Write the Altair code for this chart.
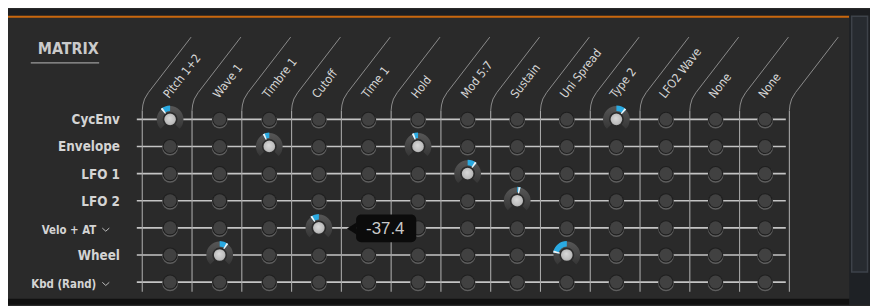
import math
import altair as alt
import pandas as pd

# ---------------- data ----------------
columns = ["Pitch 1+2", "Wave 1", "Timbre 1", "Cutoff", "Time 1", "Hold",
           "Mod 5:7", "Sustain", "Uni Spread", "Type 2", "LFO2 Wave", "None", "None"]
rows = ["CycEnv", "Envelope", "LFO 1", "LFO 2", "Velo + AT", "Wheel", "Kbd (Rand)"]
dropdown_rows = ["Velo + AT", "Kbd (Rand)"]

active_row = ["CycEnv", "CycEnv", "Envelope", "Envelope", "LFO 1", "LFO 2",
              "Velo + AT", "Wheel", "Wheel"]
active_col = ["Pitch 1+2", "Type 2", "Timbre 1", "Hold", "Mod 5:7", "Sustain",
              "Cutoff", "Wave 1", "Uni Spread"]
active_amount = [-42, 45, -28, -26, 40, 14, -37.4, 38, -80]

tooltip_row = "Velo + AT"
tooltip_col = "Cutoff"
title_text = "MATRIX"

# ---------------- layout ----------------
W, H = 870, 298
X0, DX = 163.6, 50.05      # chart px of first column, column pitch
Y0, DY = 111.0, 27.38      # chart px of first row, row pitch
DEG_PER_UNIT = 1.0
TWO_PI = 2 * math.pi


def ix(px):
    return (px - X0) / DX


def iy(py):
    return (py - Y0) / DY


xs = alt.Scale(domain=[ix(0), ix(W)], nice=False, zero=False)
ys = alt.Scale(domain=[iy(0), iy(H)], nice=False, zero=False, reverse=True)


def X(f):
    return alt.X(f, type="quantitative", scale=xs, axis=None)


def Y(f):
    return alt.Y(f, type="quantitative", scale=ys, axis=None)


# ---------------- tables ----------------
active_keys = {(r, c) for r, c in zip(active_row, active_col)}
cells = []
for j, r in enumerate(rows):
    for i, c in enumerate(columns):
        cells.append({"i": i, "j": j, "active": (r, c) in active_keys})
cells = pd.DataFrame(cells)
inactive = cells[~cells["active"]]

act = []
for r, c, v in zip(active_row, active_col, active_amount):
    a = v * DEG_PER_UNIT * math.pi / 180
    s = 1 if a >= 0 else -1
    tip = a - s * 0.15
    act.append({
        "i": columns.index(c), "j": rows.index(r), "v": v,
        "h0": -2.36 + TWO_PI, "h1": 2.36 + TWO_PI,
        "b0": min(a, 0) + TWO_PI, "b1": max(a, 0) + TWO_PI,
        "w0": min(a, tip) + TWO_PI, "w1": max(a, tip) + TWO_PI,
    })
act = pd.DataFrame(act)

hlines = pd.DataFrame({"j": list(range(len(rows)))})
hlines["x0"] = ix(130)
hlines["x1"] = ix(785)

vpts, dpts = [], []
curve = [(0, 102), (0.6, 96.5), (2.3, 90.5), (6.1, 84.1), (49.3, 28)]
for k in range(len(columns) + 1):
    lx = 135.5 + 50.24 * k
    vpts += [{"k": k, "o": 0, "x": ix(lx), "y": iy(285)},
             {"k": k, "o": 1, "x": ix(lx), "y": iy(102)}]
    for o, (dxp, py) in enumerate(curve):
        dpts.append({"k": k, "o": o, "x": ix(lx + dxp), "y": iy(py)})
vpts = pd.DataFrame(vpts)
dpts = pd.DataFrame(dpts)

col_labels = pd.DataFrame({"i": list(range(len(columns))), "label": columns})
col_labels["y"] = iy(90.5)

row_df = pd.DataFrame({"j": list(range(len(rows))), "label": rows})
row_df["dd"] = row_df["label"].isin(dropdown_rows)
row_df["xr"] = [ix(89) if d else ix(113) for d in row_df["dd"]]
row_df["xc"] = ix(98.7)
reg_rows = row_df[~row_df["dd"]]
dd_rows = row_df[row_df["dd"]]

tip_idx = [k for k in range(len(active_row))
           if active_row[k] == tooltip_row and active_col[k] == tooltip_col][0]
tip_df = pd.DataFrame([{
    "i": columns.index(tooltip_col), "j": rows.index(tooltip_row),
    "txt": f"{active_amount[tip_idx]:.1f}",
}])

one = pd.DataFrame({"a": [0]})

LABEL_FONT = "'DejaVu Sans Condensed', 'Roboto Condensed', 'Liberation Sans Narrow', Roboto, sans-serif"

# ---------------- frame ----------------
top_bar = alt.Chart(one).mark_rect(color="#1c1e21").encode(
    x=alt.value(0), x2=alt.value(W), y=alt.value(0), y2=alt.value(6.5))
orange = alt.Chart(one).mark_rect(color="#c9670e").encode(
    x=alt.value(0), x2=alt.value(849), y=alt.value(6.5), y2=alt.value(8.5))
right_col = alt.Chart(one).mark_rect(color="#1e2125").encode(
    x=alt.value(849), x2=alt.value(W), y=alt.value(6.5), y2=alt.value(H))
scroll = alt.Chart(one).mark_rect(fill="#272b30", stroke="#3d4249", strokeWidth=1.5).encode(
    x=alt.value(851.5), x2=alt.value(867.5), y=alt.value(7), y2=alt.value(265))
bottom = alt.Chart(one).mark_rect(color="#101010").encode(
    x=alt.value(0), x2=alt.value(849), y=alt.value(292), y2=alt.value(H))

title = alt.Chart(one).mark_text(
    text=title_text, font=LABEL_FONT, fontWeight="bold", fontSize=16,
    color="#cacaca", align="left", baseline="alphabetic").encode(
    x=alt.value(30), y=alt.value(45.5))
underline = alt.Chart(one).mark_rule(color="#9c9c9c", strokeWidth=1.2).encode(
    x=alt.value(23), x2=alt.value(92), y=alt.value(54))

# ---------------- grid ----------------
h_rules = alt.Chart(hlines).mark_rule(color="#c4c4c4", strokeWidth=1.6).encode(
    x=X("x0"), x2=alt.X2("x1"), y=Y("j"))
v_lines = alt.Chart(vpts).mark_line(color="#a8a8a8", strokeWidth=1.1).encode(
    x=X("x"), y=Y("y"), detail="k:N", order="o:Q")
d_lines = alt.Chart(dpts).mark_line(color="#8c8c8c", strokeWidth=1.0).encode(
    x=X("x"), y=Y("y"), detail="k:N", order="o:Q")

col_text = alt.Chart(col_labels).mark_text(
    font=LABEL_FONT, fontSize=12, color="#d6d6d6", angle=308,
    align="left", baseline="alphabetic", xOffset=-1).encode(
    x=X("i"), y=Y("y"), text="label:N")

row_text = alt.Chart(reg_rows).mark_text(
    font=LABEL_FONT, fontWeight="bold", fontSize=13.5, color="#d4d4d4",
    align="right", baseline="alphabetic", dy=5.0).encode(
    x=X("xr"), y=Y("j"), text="label:N")
dd_text = alt.Chart(dd_rows).mark_text(
    font=LABEL_FONT, fontWeight="bold", fontSize=11.5, color="#d4d4d4",
    align="right", baseline="alphabetic", dy=6.0).encode(
    x=X("xr"), y=Y("j"), text="label:N")
chevron = alt.Chart(dd_rows).mark_point(
    shape="M -1 -0.45 L 0 0.45 L 1 -0.45", filled=False, size=49,
    stroke="#bdbdbd", strokeWidth=1, opacity=1, yOffset=1.8).encode(
    x=X("xc"), y=Y("j"))

# ---------------- knobs ----------------
k_rim = alt.Chart(inactive).mark_circle(size=250, color="#5e5e5e", opacity=1, yOffset=1.3).encode(
    x=X("i"), y=Y("j"))
k_edge = alt.Chart(inactive).mark_circle(size=235, color="#1f1f1f", opacity=1).encode(
    x=X("i"), y=Y("j"))
k_fill = alt.Chart(inactive).mark_circle(size=172, color="#414141", opacity=1).encode(
    x=X("i"), y=Y("j"))

halo = alt.Chart(act).mark_arc(
    radius=13.5, radius2=0,
    fill={"gradient": "linear", "x1": 0, "y1": 0, "x2": 0, "y2": 1,
          "stops": [{"offset": 0, "color": "#575757"}, {"offset": 1, "color": "#363636"}]}).encode(
    x=X("i"), y=Y("j"),
    theta=alt.Theta("h0:Q", scale=None, stack=False), theta2=alt.Theta2("h1"))
blue = alt.Chart(act).mark_arc(radius=14, radius2=8.5, color="#2aaae2").encode(
    x=X("i"), y=Y("j"),
    theta=alt.Theta("b0:Q", scale=None, stack=False), theta2=alt.Theta2("b1"))
white_tick = alt.Chart(act).mark_arc(radius=14, radius2=7, color="#f2f2f2").encode(
    x=X("i"), y=Y("j"),
    theta=alt.Theta("w0:Q", scale=None, stack=False), theta2=alt.Theta2("w1"))
center = alt.Chart(act).mark_circle(
    size=180, opacity=1, stroke="#2a2a2a", strokeWidth=1.6,
    fill={"gradient": "radial", "x1": 0.45, "y1": 0.4, "r1": 0,
          "x2": 0.5, "y2": 0.5, "r2": 0.55,
          "stops": [{"offset": 0, "color": "#d9d9d9"}, {"offset": 0.7, "color": "#bdbdbd"},
                    {"offset": 1, "color": "#8e8e8e"}]}).encode(
    x=X("i"), y=Y("j"))

# ---------------- tooltip ----------------
tip_box = alt.Chart(tip_df).mark_rect(
    color="#0b0b0b", cornerRadius=5, xOffset=37.6, x2Offset=98.3,
    yOffset=-13.4, y2Offset=14.4).encode(
    x=X("i"), x2=alt.X2("i"), y=Y("j"), y2=alt.Y2("j"))
tip_arrow = alt.Chart(tip_df).mark_point(
    shape="M -0.8 0 L 0.8 -1 L 0.8 1 Z", filled=True, size=144,
    color="#0b0b0b", opacity=1, xOffset=33.2, yOffset=0.6).encode(
    x=X("i"), y=Y("j"))
tip_text = alt.Chart(tip_df).mark_text(
    font="'Liberation Sans', Arial, sans-serif", fontSize=17, color="#c9c9c9", align="center",
    baseline="alphabetic", xOffset=67, yOffset=6.6).encode(
    x=X("i"), y=Y("j"), text="txt:N")

chart = alt.layer(
    top_bar, orange, right_col, scroll, bottom, title, underline,
    h_rules, v_lines, d_lines, col_text, row_text, dd_text, chevron,
    k_rim, k_edge, k_fill, halo, blue, white_tick, center,
    tip_box, tip_arrow, tip_text,
).properties(
    width=W, height=H, autosize=alt.AutoSizeParams(type="none"), padding=0,
    background="#2a2a2a",
).configure_view(strokeWidth=0)

chart.save("out.html", embed_options={"renderer": "svg", "actions": False})
